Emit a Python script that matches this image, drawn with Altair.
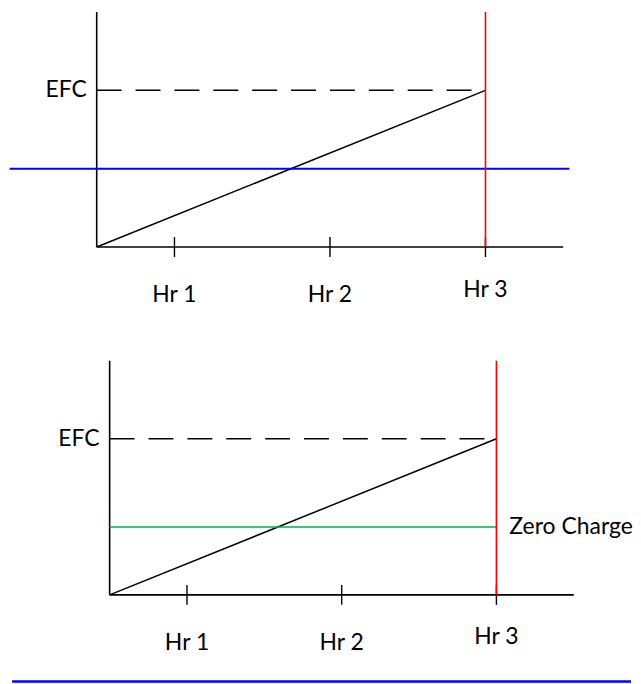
import altair as alt
import pandas as pd

# ---- data (diagram values, in hours / charge units) ----
hour_labels = ["Hr 1", "Hr 2", "Hr 3"]
hour_ticks = [0.5, 1.5, 2.5]
axis_max = 3.0
efc_level = 2.0
charge_start = 0.0
panel1_blue_level = 1.0
panel1_blue_span = [-0.56, 3.04]
zero_charge_level = 0.87
bottom_blue_level = -1.11
bottom_blue_span = [-0.63, 3.37]

FONT = "Lato"
FS = 23
W = 625
H1 = 300
H2 = 380


def panel(xdom, ydom, height, extra_layers, label_dy):
    xs = alt.Scale(domain=xdom, nice=False, zero=False)
    ys = alt.Scale(domain=ydom, nice=False, zero=False)
    X = lambda f: alt.X(f, type="quantitative", scale=xs, axis=None)
    Y = lambda f: alt.Y(f, type="quantitative", scale=ys, axis=None)

    axes_df = pd.DataFrame({"x": [0, 0], "x2": [0, axis_max],
                            "y": [0, 0], "y2": [axis_max, 0]})
    axes = alt.Chart(axes_df).mark_rule(color="black", strokeWidth=1.6).encode(
        x=X("x"), x2="x2", y=Y("y"), y2="y2")

    tick_df = pd.DataFrame({"x": hour_ticks, "y": [0] * len(hour_ticks)})
    ticks = alt.Chart(tick_df).mark_rule(color="black", strokeWidth=1.4,
                                         yOffset=-10, y2Offset=10).encode(
        x=X("x"), y=Y("y"), y2="y")

    diag_df = pd.DataFrame({"x": [0, hour_ticks[-1]], "y": [charge_start, efc_level]})
    diag = alt.Chart(diag_df).mark_line(color="black", strokeWidth=1.5).encode(
        x=X("x"), y=Y("y"))

    dash_df = pd.DataFrame({"x": [0], "x2": [hour_ticks[-1]], "y": [efc_level]})
    dash = alt.Chart(dash_df).mark_rule(color="black", strokeWidth=1.5,
                                        strokeDash=[25, 14]).encode(
        x=X("x"), x2="x2", y=Y("y"))

    red_df = pd.DataFrame({"x": [hour_ticks[-1]], "y": [0], "y2": [axis_max]})
    red = alt.Chart(red_df).mark_rule(color="#FF0000", strokeWidth=1.6).encode(
        x=X("x"), y=Y("y"), y2="y2")

    efc_df = pd.DataFrame({"x": [0], "y": [efc_level], "t": ["EFC"]})
    efc = alt.Chart(efc_df).mark_text(font=FONT, fontSize=FS, align="right",
                                      baseline="middle", dx=-10, color="black").encode(
        x=X("x"), y=Y("y"), text="t:N")

    lab_df = pd.DataFrame({"x": hour_ticks, "y": [0] * 3, "t": hour_labels})
    labs = []
    for i in range(3):
        labs.append(alt.Chart(lab_df.iloc[[i]]).mark_text(
            font=FONT, fontSize=FS, align="center", baseline="middle",
            dy=label_dy[i], color="black").encode(x=X("x"), y=Y("y"), text="t:N"))

    layers = [axes, ticks, diag, dash] + [l(X, Y) for l in extra_layers] + [red, efc] + labs
    return alt.layer(*layers).properties(width=W, height=height)


def p1_blue(X, Y):
    df = pd.DataFrame({"x": [panel1_blue_span[0]], "x2": [panel1_blue_span[1]],
                       "y": [panel1_blue_level]})
    return alt.Chart(df).mark_rule(color="#0000FF", strokeWidth=2).encode(
        x=X("x"), x2="x2", y=Y("y"))


def p2_green(X, Y):
    df = pd.DataFrame({"x": [0], "x2": [hour_ticks[-1]], "y": [zero_charge_level]})
    return alt.Chart(df).mark_rule(color="#00B050", strokeWidth=1.6).encode(
        x=X("x"), x2="x2", y=Y("y"))


def p2_label(X, Y):
    df = pd.DataFrame({"x": [hour_ticks[-1]], "y": [zero_charge_level],
                       "t": ["Zero Charge"]})
    return alt.Chart(df).mark_text(font=FONT, fontSize=FS, align="left",
                                   baseline="middle", dx=13, color="black").encode(
        x=X("x"), y=Y("y"), text="t:N")


def p2_bottom(X, Y):
    df = pd.DataFrame({"x": [bottom_blue_span[0]], "x2": [bottom_blue_span[1]],
                       "y": [bottom_blue_level]})
    return alt.Chart(df).mark_rule(color="#0000FF", strokeWidth=2.5).encode(
        x=X("x"), x2="x2", y=Y("y"))


top = panel([-0.5705, 3.436], [-0.780, 3.037], H1, [p1_blue], [48, 48, 43])
bottom = panel([-0.657, 3.370], [-1.179, 3.674], H2,
               [p2_green, p2_label, p2_bottom], [48, 48, 42])

chart = alt.vconcat(top, bottom, spacing=0, bounds="flush").properties(
    padding=0, background="white"
).configure_view(stroke=None)

chart.save("out.html", embed_options={"renderer": "svg", "actions": False})
